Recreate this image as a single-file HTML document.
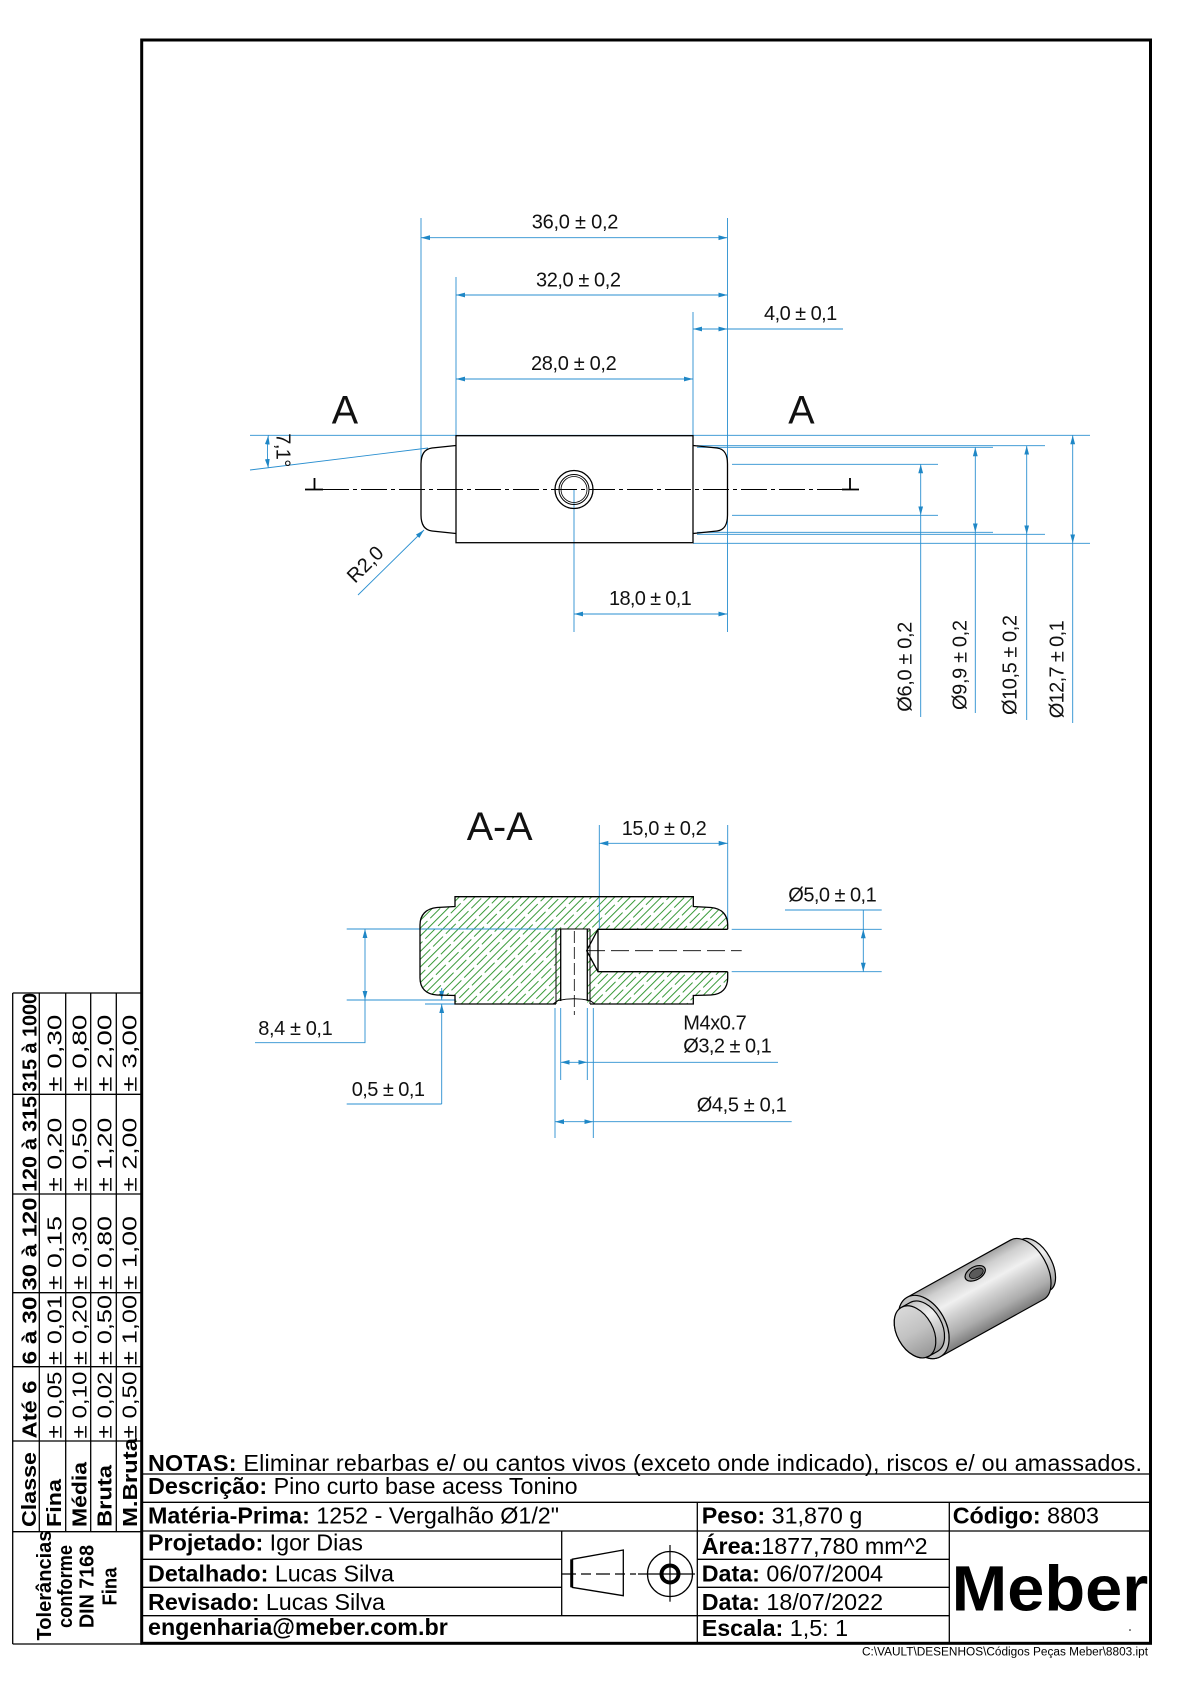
<!DOCTYPE html>
<html><head><meta charset="utf-8">
<style>
html,body{margin:0;padding:0;background:#fff;}
svg{display:block;}
text{font-family:"Liberation Sans",Arial,sans-serif;}
</style></head><body>
<svg width="1190" height="1684" viewBox="0 0 1190 1684" xmlns="http://www.w3.org/2000/svg">
<defs>
<marker id="ar" markerUnits="userSpaceOnUse" markerWidth="9" markerHeight="6" refX="9" refY="3" orient="auto-start-reverse" viewBox="0 0 9 6"><path d="M0,0.6 L9,3 L0,5.4 Z" fill="#1f87c6"/></marker>
<pattern id="hatch" patternUnits="userSpaceOnUse" width="18" height="11" patternTransform="rotate(-45)">
 <line x1="0" y1="2" x2="18" y2="2" stroke="#3a9a3a" stroke-width="0.9"/>
 <line x1="0" y1="7.5" x2="18" y2="7.5" stroke="#3a9a3a" stroke-width="0.9" stroke-dasharray="11 4 3 0"/>
</pattern>
<linearGradient id="bg" gradientUnits="userSpaceOnUse" x1="0" y1="-34" x2="0" y2="34">
 <stop offset="0" stop-color="#a2a2a2"/><stop offset="0.15" stop-color="#cfcfcf"/><stop offset="0.38" stop-color="#f0f0f0"/><stop offset="0.55" stop-color="#d2d2d2"/><stop offset="0.8" stop-color="#acacac"/><stop offset="1" stop-color="#7c7c7c"/>
</linearGradient>
<linearGradient id="fg" gradientUnits="userSpaceOnUse" x1="0" y1="-29" x2="0" y2="29">
 <stop offset="0" stop-color="#dadada"/><stop offset="0.5" stop-color="#c2c2c2"/><stop offset="1" stop-color="#959595"/>
</linearGradient>
</defs>

<!-- main border -->
<rect x="141.7" y="40" width="1008.8" height="1603.3" fill="none" stroke="#000" stroke-width="3"/>

<!-- ================= MAIN VIEW ================= -->
<g fill="none" stroke="#2a8fd0" stroke-width="0.9">
 <line x1="421" y1="218" x2="421" y2="464"/>
 <line x1="456" y1="277" x2="456" y2="435"/>
 <line x1="693" y1="312" x2="693" y2="435"/>
 <line x1="727.5" y1="218" x2="727.5" y2="632"/>
 <line x1="574" y1="490" x2="574" y2="632"/>
 <line x1="421" y1="237.7" x2="727.5" y2="237.7" marker-start="url(#ar)" marker-end="url(#ar)"/>
 <line x1="456" y1="295" x2="727.5" y2="295" marker-start="url(#ar)" marker-end="url(#ar)"/>
 <line x1="693" y1="329" x2="727.5" y2="329" marker-start="url(#ar)" marker-end="url(#ar)"/>
 <line x1="727.5" y1="329" x2="843" y2="329"/>
 <line x1="456" y1="379" x2="693" y2="379" marker-start="url(#ar)" marker-end="url(#ar)"/>
 <line x1="574" y1="614" x2="727.5" y2="614" marker-start="url(#ar)" marker-end="url(#ar)"/>
 <line x1="250" y1="435.3" x2="1090" y2="435.3"/>
 <line x1="697" y1="445.7" x2="1045" y2="445.7"/>
 <line x1="697" y1="447.3" x2="993" y2="447.3"/>
 <line x1="732" y1="464.3" x2="938" y2="464.3"/>
 <line x1="732" y1="515.3" x2="938" y2="515.3"/>
 <line x1="697" y1="532.3" x2="993" y2="532.3"/>
 <line x1="697" y1="534.3" x2="1045" y2="534.3"/>
 <line x1="693" y1="543.3" x2="1090" y2="543.3"/>
 <line x1="920.7" y1="464.3" x2="920.7" y2="515.3" marker-start="url(#ar)" marker-end="url(#ar)"/>
 <line x1="920.7" y1="515.3" x2="920.7" y2="717"/>
 <line x1="975.3" y1="447.3" x2="975.3" y2="532.3" marker-start="url(#ar)" marker-end="url(#ar)"/>
 <line x1="975.3" y1="532.3" x2="975.3" y2="713"/>
 <line x1="1026.7" y1="445.7" x2="1026.7" y2="534.3" marker-start="url(#ar)" marker-end="url(#ar)"/>
 <line x1="1026.7" y1="534.3" x2="1026.7" y2="720"/>
 <line x1="1072.7" y1="435.3" x2="1072.7" y2="543.3" marker-start="url(#ar)" marker-end="url(#ar)"/>
 <line x1="1072.7" y1="543.3" x2="1072.7" y2="723"/>
 <line x1="250" y1="470" x2="428" y2="448"/>
 <path d="M268.3,435.5 Q266.5,452 268.3,468" marker-start="url(#ar)" marker-end="url(#ar)"/>
 <line x1="358" y1="595" x2="424" y2="530" marker-end="url(#ar)"/>
</g>

<g fill="none" stroke="#000" stroke-width="1.3">
 <rect x="456" y="435.7" width="237" height="107"/>
 <path d="M456,445.5 L432,448 C424,449 421,455 421,464 L421,515 C421,524 424,530 432,531 L456,533.5"/>
 <path d="M693,445.5 L717,448 C725,449 727.5,455 727.5,464 L727.5,515 C727.5,524 725,530 717,531 L693,533.5"/>
 <circle cx="574" cy="489.5" r="19"/>
 <circle cx="574" cy="489.5" r="15" stroke-width="1"/>
 <circle cx="574" cy="489.5" r="13" stroke-width="0.8"/>
</g>
<line x1="323" y1="489.5" x2="842" y2="489.5" stroke="#000" stroke-width="1" stroke-dasharray="26 4 4 4"/>
<path d="M305,489.5 H323 M314.5,478 V489.5" stroke="#000" stroke-width="1.8" fill="none"/>
<path d="M842,489.5 H859 M850,478 V489.5" stroke="#000" stroke-width="1.8" fill="none"/>

<g font-size="20" fill="#111">
 <text x="531.7" y="228.3" textLength="86.7" lengthAdjust="spacing">36,0 ± 0,2</text>
 <text x="536" y="286.7" textLength="85" lengthAdjust="spacing">32,0 ± 0,2</text>
 <text x="531" y="370" textLength="85.7" lengthAdjust="spacing">28,0 ± 0,2</text>
 <text x="764" y="320" textLength="73.3" lengthAdjust="spacing">4,0 ± 0,1</text>
 <text x="609" y="605" textLength="82.7" lengthAdjust="spacing">18,0 ± 0,1</text>
 <text transform="translate(911.7,711.7) rotate(-90)" textLength="90" lengthAdjust="spacing">Ø6,0 ± 0,2</text>
 <text transform="translate(966.7,710) rotate(-90)" textLength="90" lengthAdjust="spacing">Ø9,9 ± 0,2</text>
 <text transform="translate(1016.7,715) rotate(-90)" textLength="100" lengthAdjust="spacing">Ø10,5 ± 0,2</text>
 <text transform="translate(1063.3,718.3) rotate(-90)" textLength="98" lengthAdjust="spacing">Ø12,7 ± 0,1</text>
 <text transform="translate(276.7,433.3) rotate(90)" textLength="34" lengthAdjust="spacing">7,1°</text>
 <text transform="translate(355,584) rotate(-45)">R2,0</text>
 <text x="331.7" y="423.3" font-size="39.5">A</text>
 <text x="788.3" y="423.3" font-size="39.5">A</text>
</g>

<!-- ================= SECTION A-A ================= -->
<path d="M455,896.7 H693.3 V906.5 L711,907.5 C722,908.5 727.7,915 727.7,925 V978 C727.7,988 722,994.5 711,995 L693.3,995.5 V1004 H455 V995.5 L437,995 C426,994.5 420,988 420,978 V925 C420,915 426,908.5 437,907.5 L455,906.5 Z" fill="url(#hatch)" stroke="none"/>
<path d="M598,929.3 H728.5 V971.7 H598 L586.7,950.7 Z" fill="#fff"/>
<rect x="560.7" y="929" width="26.6" height="76" fill="#fff"/>

<g fill="none" stroke="#2a8fd0" stroke-width="0.9">
 <line x1="599.3" y1="825" x2="599.3" y2="929"/>
 <line x1="727.7" y1="825" x2="727.7" y2="925"/>
 <line x1="599.3" y1="843.3" x2="727.7" y2="843.3" marker-start="url(#ar)" marker-end="url(#ar)"/>
 <line x1="731.7" y1="929.3" x2="881.7" y2="929.3"/>
 <line x1="731.7" y1="971.7" x2="881.7" y2="971.7"/>
 <line x1="863.3" y1="929.3" x2="863.3" y2="971.7" marker-start="url(#ar)" marker-end="url(#ar)"/>
 <line x1="863.3" y1="910" x2="863.3" y2="929.3"/>
 <line x1="785" y1="910" x2="881.7" y2="910"/>
 <line x1="346.7" y1="929" x2="556" y2="929"/>
 <line x1="346.7" y1="1000" x2="456" y2="1000"/>
 <line x1="425" y1="1004" x2="456" y2="1004"/>
 <line x1="365" y1="929" x2="365" y2="1000" marker-start="url(#ar)" marker-end="url(#ar)"/>
 <polyline points="365,1000 365,1042.7 255,1042.7"/>
 <line x1="441.7" y1="988" x2="441.7" y2="1000" marker-end="url(#ar)"/>
 <line x1="441.7" y1="1104" x2="441.7" y2="1004" marker-end="url(#ar)"/>
 <line x1="346.7" y1="1104" x2="441.7" y2="1104"/>
 <line x1="560.7" y1="1008" x2="560.7" y2="1080"/>
 <line x1="587.3" y1="1008" x2="587.3" y2="1080"/>
 <line x1="560.7" y1="1062.3" x2="587.3" y2="1062.3" marker-start="url(#ar)" marker-end="url(#ar)"/>
 <line x1="587.3" y1="1062.3" x2="778" y2="1062.3"/>
 <line x1="555" y1="1008" x2="555" y2="1138"/>
 <line x1="593.3" y1="1008" x2="593.3" y2="1138"/>
 <line x1="555" y1="1121.7" x2="593.3" y2="1121.7" marker-start="url(#ar)" marker-end="url(#ar)"/>
 <line x1="593.3" y1="1121.7" x2="791.7" y2="1121.7"/>
</g>

<g fill="none" stroke="#000" stroke-width="1.3">
 <path d="M727.7,929.3 V925 C727.7,915 722,908.5 711,907.5 L693.3,906.5 V896.7 H455 V906.5 L437,907.5 C426,908.5 420,915 420,925 V978 C420,988 426,994.5 437,995 L455,995.5 V1004 H556 M590,1004 H693.3 V995.5 L711,995 C722,994.5 727.7,988 727.7,978 V971.7"/>
 <path d="M727.7,929.3 H598 L586.7,950.7 L598,971.7 H727.7 M598,929.3 V971.7"/>
 <path d="M556,929 V1004 M590,929 V1004 M556,929 H590" stroke-width="1"/>
 <path d="M560.7,929 V1001 M587.3,929 V1001"/>
 <path d="M553,1004 L558,1000.5 Q574,997 590,1000.5 L595,1004" stroke-width="1"/>
</g>
<line x1="574.3" y1="931" x2="574.3" y2="1015" stroke="#000" stroke-width="0.8" stroke-dasharray="12 4"/>
<line x1="587" y1="950.7" x2="741.7" y2="950.7" stroke="#000" stroke-width="0.8" stroke-dasharray="18 6"/>

<g font-size="20" fill="#111">
 <text x="466.7" y="840" font-size="39.5">A-A</text>
 <text x="621.7" y="835" textLength="85" lengthAdjust="spacing">15,0 ± 0,2</text>
 <text x="788.3" y="901.7" textLength="88.4" lengthAdjust="spacing">Ø5,0 ± 0,1</text>
 <text x="683.3" y="1029.3" textLength="63.4" lengthAdjust="spacing">M4x0.7</text>
 <text x="683.3" y="1052.3" textLength="88.4" lengthAdjust="spacing">Ø3,2 ± 0,1</text>
 <text x="696.7" y="1111.7" textLength="90" lengthAdjust="spacing">Ø4,5 ± 0,1</text>
 <text x="258.3" y="1035" textLength="74.4" lengthAdjust="spacing">8,4 ± 0,1</text>
 <text x="351.7" y="1096" textLength="73.3" lengthAdjust="spacing">0,5 ± 0,1</text>
</g>

<!-- ================= 3D VIEW ================= -->
<g transform="translate(981.5,1295) rotate(-29)" stroke="#000" stroke-width="1.2">
 <path d="M50,-29 L62,-29 A16,29 0 0 1 62,29 L50,29 Z" fill="url(#bg)"/>
 <path d="M-66,-34 L52,-34 A20,34 0 0 1 52,34 L-66,34 A22,34 0 0 1 -66,-34 Z" fill="url(#bg)"/>
 <ellipse cx="-66" cy="0" rx="22" ry="34" fill="#c4c4c4"/>
 <path d="M-66,-28 L-76,-28 A18,28 0 0 0 -76,28 L-66,28 A18,28 0 0 0 -66,-28 Z" fill="url(#bg)"/>
 <ellipse cx="-76" cy="0" rx="18" ry="28" fill="url(#fg)"/>
 <ellipse cx="5" cy="-22" rx="11" ry="6.5" fill="#9a9a9a"/>
 <ellipse cx="6" cy="-21.5" rx="7.5" ry="4.3" fill="#5a5a5a" stroke-width="0.8"/>
</g>

<!-- ================= TOLERANCE TABLE ================= -->
<g stroke="#000" stroke-width="1.3" fill="none">
 <line x1="12.7" y1="993" x2="142" y2="993"/>
 <line x1="12.7" y1="993" x2="12.7" y2="1644"/>
 <line x1="12.7" y1="1644" x2="142" y2="1644"/>
 <line x1="12.7" y1="1094.3" x2="142" y2="1094.3"/>
 <line x1="12.7" y1="1194" x2="142" y2="1194"/>
 <line x1="12.7" y1="1292.7" x2="142" y2="1292.7"/>
 <line x1="12.7" y1="1366.7" x2="142" y2="1366.7"/>
 <line x1="12.7" y1="1441" x2="142" y2="1441"/>
 <line x1="12.7" y1="1531.7" x2="142" y2="1531.7"/>
 <line x1="39.3" y1="993" x2="39.3" y2="1531.7"/>
 <line x1="65.7" y1="993" x2="65.7" y2="1531.7"/>
 <line x1="90.7" y1="993" x2="90.7" y2="1531.7"/>
 <line x1="116.3" y1="993" x2="116.3" y2="1531.7"/>
</g>
<g font-size="20" fill="#000">
 <g font-weight="bold">
  <text transform="translate(36.5,1092) rotate(-90)" textLength="99" lengthAdjust="spacingAndGlyphs">315 à 1000</text>
  <text transform="translate(36.5,1192) rotate(-90)" textLength="96" lengthAdjust="spacingAndGlyphs">120 à 315</text>
  <text transform="translate(36.5,1290.5) rotate(-90)" textLength="93" lengthAdjust="spacingAndGlyphs">30 à 120</text>
  <text transform="translate(36.5,1364.5) rotate(-90)" textLength="68" lengthAdjust="spacingAndGlyphs">6 à 30</text>
  <text transform="translate(36.5,1438.5) rotate(-90)" textLength="58" lengthAdjust="spacingAndGlyphs">Até 6</text>
  <text transform="translate(36,1527) rotate(-90)" textLength="75" lengthAdjust="spacingAndGlyphs">Classe</text>
  <text transform="translate(61,1527) rotate(-90)" textLength="48" lengthAdjust="spacingAndGlyphs">Fina</text>
  <text transform="translate(86.5,1527) rotate(-90)" textLength="65" lengthAdjust="spacingAndGlyphs">Média</text>
  <text transform="translate(111.5,1527) rotate(-90)" textLength="62" lengthAdjust="spacingAndGlyphs">Bruta</text>
  <text transform="translate(137,1527) rotate(-90)" textLength="89" lengthAdjust="spacingAndGlyphs">M.Bruta</text>
  <text transform="translate(51,1585.5) rotate(-90)" text-anchor="middle" textLength="110" lengthAdjust="spacingAndGlyphs">Tolerâncias</text>
  <text transform="translate(72,1586.5) rotate(-90)" text-anchor="middle" textLength="83" lengthAdjust="spacingAndGlyphs">conforme</text>
  <text transform="translate(93.3,1586.5) rotate(-90)" text-anchor="middle" textLength="83" lengthAdjust="spacingAndGlyphs">DIN 7168</text>
  <text transform="translate(116.7,1586.5) rotate(-90)" text-anchor="middle" textLength="38" lengthAdjust="spacingAndGlyphs">Fina</text>
 </g>
 <!-- row 1 -->
 <text transform="translate(61.7,1091.7) rotate(-90)" textLength="77" lengthAdjust="spacingAndGlyphs">± 0,30</text>
 <text transform="translate(86.7,1091.7) rotate(-90)" textLength="77" lengthAdjust="spacingAndGlyphs">± 0,80</text>
 <text transform="translate(111.7,1091.7) rotate(-90)" textLength="77" lengthAdjust="spacingAndGlyphs">± 2,00</text>
 <text transform="translate(136.7,1091.7) rotate(-90)" textLength="77" lengthAdjust="spacingAndGlyphs">± 3,00</text>
 <!-- row 2 -->
 <text transform="translate(61.7,1191.7) rotate(-90)" textLength="74" lengthAdjust="spacingAndGlyphs">± 0,20</text>
 <text transform="translate(86.7,1191.7) rotate(-90)" textLength="74" lengthAdjust="spacingAndGlyphs">± 0,50</text>
 <text transform="translate(111.7,1191.7) rotate(-90)" textLength="74" lengthAdjust="spacingAndGlyphs">± 1,20</text>
 <text transform="translate(136.7,1191.7) rotate(-90)" textLength="74" lengthAdjust="spacingAndGlyphs">± 2,00</text>
 <!-- row 3 -->
 <text transform="translate(61.7,1290) rotate(-90)" textLength="74" lengthAdjust="spacingAndGlyphs">± 0,15</text>
 <text transform="translate(86.7,1290) rotate(-90)" textLength="74" lengthAdjust="spacingAndGlyphs">± 0,30</text>
 <text transform="translate(111.7,1290) rotate(-90)" textLength="74" lengthAdjust="spacingAndGlyphs">± 0,80</text>
 <text transform="translate(136.7,1290) rotate(-90)" textLength="74" lengthAdjust="spacingAndGlyphs">± 1,00</text>
 <!-- row 4 -->
 <text transform="translate(61.7,1365) rotate(-90)" textLength="70" lengthAdjust="spacingAndGlyphs">± 0,01</text>
 <text transform="translate(86.7,1365) rotate(-90)" textLength="70" lengthAdjust="spacingAndGlyphs">± 0,20</text>
 <text transform="translate(111.7,1365) rotate(-90)" textLength="70" lengthAdjust="spacingAndGlyphs">± 0,50</text>
 <text transform="translate(136.7,1365) rotate(-90)" textLength="70" lengthAdjust="spacingAndGlyphs">± 1,00</text>
 <!-- row 5 -->
 <text transform="translate(61.7,1438.5) rotate(-90)" textLength="67" lengthAdjust="spacingAndGlyphs">± 0,05</text>
 <text transform="translate(86.7,1438.5) rotate(-90)" textLength="67" lengthAdjust="spacingAndGlyphs">± 0,10</text>
 <text transform="translate(111.7,1438.5) rotate(-90)" textLength="67" lengthAdjust="spacingAndGlyphs">± 0,02</text>
 <text transform="translate(136.7,1438.5) rotate(-90)" textLength="67" lengthAdjust="spacingAndGlyphs">± 0,50</text>
</g>

<!-- ================= TITLE BLOCK ================= -->
<g stroke="#000" stroke-width="1.3" fill="none">
 <line x1="141.7" y1="1474" x2="1150.5" y2="1474"/>
 <line x1="141.7" y1="1502.3" x2="1150.5" y2="1502.3"/>
 <line x1="141.7" y1="1531" x2="1150.5" y2="1531"/>
 <line x1="141.7" y1="1559.3" x2="561.7" y2="1559.3"/>
 <line x1="697.3" y1="1559.3" x2="949.3" y2="1559.3"/>
 <line x1="141.7" y1="1587.3" x2="561.7" y2="1587.3"/>
 <line x1="697.3" y1="1587.3" x2="949.3" y2="1587.3"/>
 <line x1="141.7" y1="1615.7" x2="949.3" y2="1615.7"/>
 <line x1="561.7" y1="1531" x2="561.7" y2="1615.7"/>
 <line x1="697.3" y1="1502.3" x2="697.3" y2="1643.3"/>
 <line x1="949.3" y1="1502.3" x2="949.3" y2="1643.3"/>
</g>
<!-- projection symbol -->
<g stroke="#000" fill="none">
 <line x1="571.7" y1="1559.3" x2="571.7" y2="1587.3" stroke-width="3"/>
 <path d="M571.7,1559.3 L623.3,1550 V1595.7 L571.7,1587.3" stroke-width="1.3"/>
 <line x1="562" y1="1574" x2="636" y2="1574" stroke-width="1.2" stroke-dasharray="14 5 10 5"/>
 <circle cx="670" cy="1574" r="22.5" stroke-width="1.3"/>
 <circle cx="670" cy="1574" r="8.5" stroke-width="4"/>
 <line x1="638" y1="1574" x2="695" y2="1574" stroke-width="1.2"/>
 <line x1="670" y1="1545" x2="670" y2="1601.7" stroke-width="1.2"/>
</g>

<g font-size="23.3" fill="#000">
 <text x="148" y="1471" textLength="994" lengthAdjust="spacing"><tspan font-weight="bold">NOTAS:</tspan> Eliminar rebarbas e/ ou cantos vivos (exceto onde indicado), riscos e/ ou amassados.</text>
 <text x="148" y="1494"><tspan font-weight="bold">Descrição:</tspan> Pino curto base acess Tonino</text>
 <text x="148" y="1523.3"><tspan font-weight="bold">Matéria-Prima:</tspan> 1252 - Vergalhão Ø1/2"</text>
 <text x="148" y="1550.7"><tspan font-weight="bold">Projetado:</tspan> Igor Dias</text>
 <text x="148" y="1581.7"><tspan font-weight="bold">Detalhado:</tspan> Lucas Silva</text>
 <text x="148" y="1610"><tspan font-weight="bold">Revisado:</tspan> Lucas Silva</text>
 <text x="148" y="1635" font-weight="bold">engenharia@meber.com.br</text>
 <text x="701.7" y="1523.3"><tspan font-weight="bold">Peso:</tspan> 31,870 g</text>
 <text x="701.7" y="1554"><tspan font-weight="bold">Área:</tspan>1877,780 mm^2</text>
 <text x="701.7" y="1581.7"><tspan font-weight="bold">Data:</tspan> 06/07/2004</text>
 <text x="701.7" y="1610"><tspan font-weight="bold">Data:</tspan> 18/07/2022</text>
 <text x="701.7" y="1636"><tspan font-weight="bold">Escala:</tspan> 1,5: 1</text>
 <text x="952.7" y="1523.3"><tspan font-weight="bold">Código:</tspan> 8803</text>
 <text x="951.7" y="1610.7" font-size="64" font-weight="bold" textLength="196.6" lengthAdjust="spacingAndGlyphs">Meber</text>
</g>
<circle cx="1130" cy="1630" r="0.8" fill="#000"/>
<text x="1148" y="1655.7" font-size="11.5" text-anchor="end" textLength="286" lengthAdjust="spacingAndGlyphs" fill="#000">C:\VAULT\DESENHOS\Códigos Peças Meber\8803.ipt</text>
</svg>
</body></html>
